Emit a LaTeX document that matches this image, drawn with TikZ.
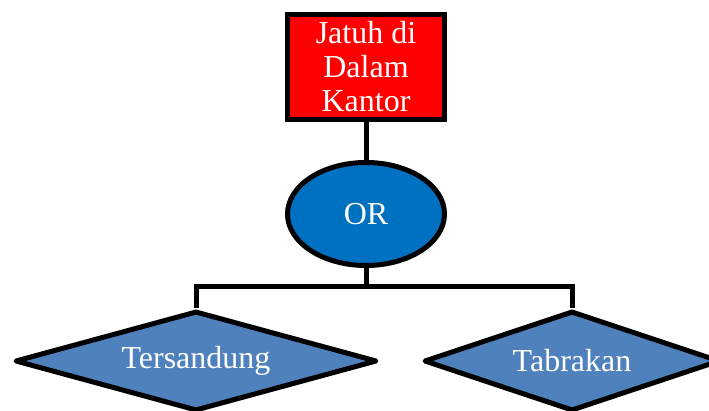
\documentclass[tikz,border=0pt]{standalone}
\usepackage{fontspec}
\setmainfont{Liberation Serif}
\usetikzlibrary{shapes.geometric}
\definecolor{boxred}{HTML}{FF0000}
\definecolor{gateblue}{HTML}{0070C0}
\definecolor{evblue}{HTML}{4F81BD}
\begin{document}
\begin{tikzpicture}[x=1pt,y=-1pt,
  lbl/.style={text=white,font=\fontsize{32}{34}\selectfont},
  topbox/.style={rectangle,draw=black,line width=5pt,fill=boxred,minimum width=157pt,minimum height=105pt,inner sep=0pt,align=center,lbl},
  gate/.style={ellipse,draw=black,line width=5pt,fill=gateblue,minimum width=157pt,minimum height=103pt,inner sep=0pt,lbl},
  event/.style={diamond,aspect=3.6,draw=black,line width=5pt,line join=round,fill=evblue,minimum height=100pt,inner sep=0pt,lbl},
  conn/.style={draw=black,line width=5pt}]
\useasboundingbox (0,0) rectangle (709,411);
\clip (0,0) rectangle (709,411);
\node[topbox] (top) at (366,67) {Jatuh di\\Dalam\\Kantor};
\node[gate] (or) at (366,214) {OR};
\node[event,minimum width=362pt] (d1) at (196,361) {Tersandung};
\node[event,minimum width=296pt] (d2) at (572,361) {Tabrakan};
\coordinate (bus) at (366,287);
\draw[conn] (top.south) -- (or.north);
\draw[conn] (or.south) -- (bus);
\draw[conn] (d1.north) |- (bus) -| (d2.north);
\end{tikzpicture}
\end{document}
